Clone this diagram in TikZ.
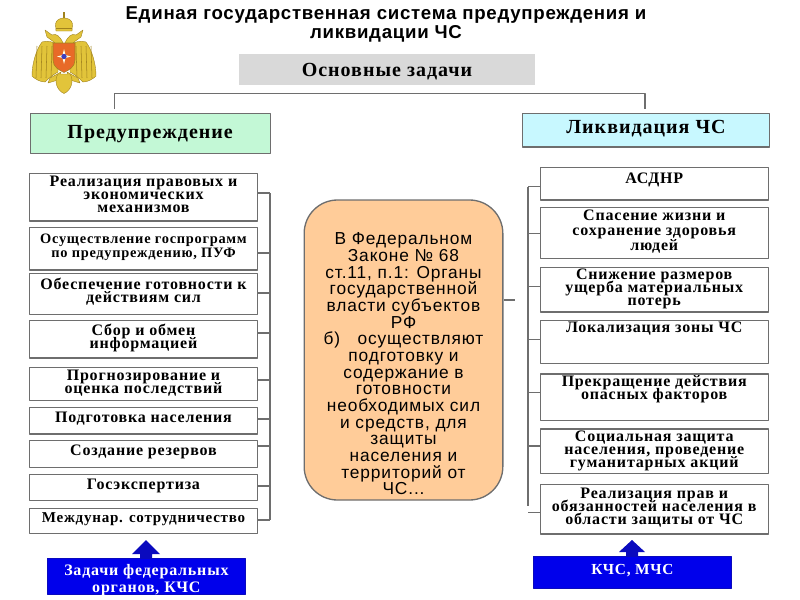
\documentclass[tikz,border=0pt]{standalone}
\usepackage{fontspec}
\setmainfont{Liberation Serif}
\newfontfamily\titlefont[LetterSpace=3.8]{Liberation Sans}
\newfontfamily\lawfont[LetterSpace=5]{Liberation Sans}
\newfontfamily\boxfont[LetterSpace=5]{Liberation Serif}
\usetikzlibrary{calc}
\setlength{\lineskiplimit}{-10pt}
\definecolor{edgegray}{RGB}{110,110,110}
\definecolor{headgray}{RGB}{217,217,217}
\definecolor{mintfill}{RGB}{195,248,214}
\definecolor{skyfill}{RGB}{200,248,255}
\definecolor{peachfill}{RGB}{255,204,153}
\definecolor{deepblue}{RGB}{0,0,235}
\definecolor{navyblue}{RGB}{10,10,190}
\definecolor{eaglegold}{RGB}{226,196,58}
\definecolor{eagledark}{RGB}{160,130,30}
\definecolor{shieldred}{RGB}{232,106,40}
\tikzset{
  taskbox/.style={draw=edgegray,line width=1pt,fill=white,anchor=north,minimum width=171pt,
    inner xsep=0pt,inner ysep=1pt,align=center,font=\boxfont\fontsize{12}{9.8}\bfseries},
  headbox/.style={draw=edgegray,line width=1pt,font=\boxfont\fontsize{15}{15}\bfseries,anchor=north west},
  bluebox/.style={draw=navyblue,fill=deepblue,text=white,line width=.6pt,anchor=north west,
    align=center,inner sep=0pt,font=\boxfont\fontsize{12}{12.5}\bfseries},
  wirepath/.style={draw=edgegray,line width=1pt},
  goldpart/.style={fill=eaglegold,draw=eagledark,line width=.3pt},
  feather/.style={draw=eagledark,line width=.4pt}
}
\begin{document}
\begin{tikzpicture}[x=.75pt,y=-.75pt,line join=round]
  \useasboundingbox (0,0) rectangle (800,600);
  % emblem
  \foreach \sgn in {-1,1}{
    \begin{scope}[shift={(64,0)},xscale=\sgn]
      \fill[goldpart] (6,45) .. controls (10,42) and (17,40) .. (22,42) .. controls (28,50) and (32,64) .. (32,76)
        .. controls (29,79) and (24,82) .. (19,82) .. controls (15,78) and (10,74) .. (6,72) -- cycle;
      \foreach \dx in {12,17,22,27}
        {\draw[feather] (\dx,46) -- (\dx+1,78);}
      \fill[goldpart] (1,43) .. controls (4,36) and (8,33) .. (12,35) -- (19,30) -- (17,37) .. controls (13,40) and (9,42) .. (7,46) -- cycle;
      \fill[goldpart] (3,72) -- (14,78) -- (16,83) -- (6,80) -- cycle;
    \end{scope}
  }
  \fill[goldpart] (58,74) -- (70,74) .. controls (74,80) and (72,90) .. (64,93.5)
    .. controls (56,90) and (54,80) .. (58,74) -- cycle;
  \fill[goldpart] (56,31) -- (55.5,24) .. controls (56,20) and (60,18) .. (64,18)
    .. controls (68,18) and (72,20) .. (72.5,24) -- (72,31) -- cycle;
  \draw[feather] (56,28) -- (72,28);
  \fill[eagledark] (62.8,12) rectangle (65.2,18);
  \fill[shieldred,draw=eagledark,line width=.4pt] (53,43) -- (75,43) -- (75,60)
    .. controls (75,67) and (69,70) .. (64,72.5) .. controls (59,70) and (53,67) .. (53,60) -- cycle;
  \fill[white!90!yellow] (64,49) -- (65.5,55) -- (71,56.5) -- (65.5,58) -- (64,64) -- (62.5,58) -- (57,56.5) -- (62.5,55) -- cycle;
  \fill[blue!50!gray] (64,56.5) circle (2pt);

  % title
  \node[font=\titlefont\fontsize{14}{14.3}\selectfont\bfseries,align=center] (title) at (386,24.5)
    {Единая государственная система предупреждения и\\ликвидации ЧС};
  \node[fill=headgray,minimum width=222pt,minimum height=23.5pt,inner sep=0pt,text depth=0pt,
    font=\boxfont\fontsize{15}{15}\bfseries] (tasks) at (387,69.5) {Основные задачи};

  % top bracket
  \coordinate (predtop) at (114.5,109);
  \coordinate (likvtop) at (645,109);
  \coordinate (barlevel) at (0,93.5);
  \draw[wirepath] (predtop) -- (predtop |- barlevel) -- (likvtop |- barlevel) -- (likvtop);

  \node[headbox,fill=mintfill,minimum width=180pt,minimum height=30pt] (pred) at (29.5,113) {Предупреждение};
  \node[headbox,fill=skyfill,minimum width=185pt,minimum height=25pt,text depth=5pt] (likv) at (522,113) {Ликвидация ЧС};

  % left column
  \node[taskbox,text depth=5pt,minimum height=35.5pt] (prev1) at (143.5,173) {Реализация правовых и\\экономических\\механизмов};
  \node[taskbox,minimum height=32pt,text depth=4pt,font=\boxfont\fontsize{10.8}{10.5}\bfseries] (prev2) at (143.5,226.5) {Осуществление госпрограмм\\по предупреждению, ПУФ};
  \node[taskbox,minimum height=30.5pt,text depth=6pt] (prev3) at (143.5,273) {Обеспечение готовности к\\действиям сил};
  \node[taskbox,minimum height=28pt,text depth=5pt] (prev4) at (143.5,320) {Сбор и обмен\\информацией};
  \node[taskbox,minimum height=25pt,text depth=3pt] (prev5) at (143.5,366.5) {Прогнозирование и\\оценка последствий};
  \node[taskbox,minimum height=20pt,text depth=5pt] (prev6) at (143.5,406.5) {Подготовка населения};
  \node[taskbox,minimum height=20pt,text depth=5pt] (prev7) at (143.5,440) {Создание резервов};
  \node[taskbox,minimum height=19.5pt,text depth=5pt] (prev8) at (143.5,474) {Госэкспертиза};
  \node[taskbox,minimum height=19pt,text depth=5pt,font=\boxfont\fontsize{11.3}{9.8}\bfseries] (prev9) at (143.5,507.5) {Междунар. сотрудничество};

  \coordinate (prevbus) at (270,193);
  \coordinate (prevend) at (270,520);
  \draw[wirepath] (prevbus) -- (prevend);
  \foreach \nm/\lev in {prev1/193,prev2/253,prev3/293,prev4/333,prev5/380,prev6/419,prev7/446,prev8/486,prev9/520}
    {\draw[wirepath] (\nm.east |- 0,\lev) -- (prevbus |- 0,\lev);}

  % centre
  \node[draw=edgegray,line width=1pt,fill=peachfill,rounded corners=25pt,minimum width=149pt,minimum height=225pt,
    inner sep=0pt,align=center,font=\lawfont\fontsize{13}{12.5}\selectfont] (law) at (403.5,350)
    {\rule{0pt}{30pt}В Федеральном\\Законе № 68\\ст.11, п.1: Органы\\государственной\\власти субъектов\\РФ\\б)\quad осуществляют\\подготовку и\\содержание в\\готовности\\необходимых сил\\и средств, для\\защиты\\населения и\\территорий от\\ЧС...};
  \coordinate (lawstub) at (515,300);
  \draw[wirepath] (law.east |- lawstub) -- (lawstub);

  % right column
  \node[taskbox,minimum height=24.5pt,text depth=9pt] (act1) at (654.25,166.7) {АСДНР};
  \node[taskbox,minimum height=38.5pt,text depth=4pt,font=\boxfont\fontsize{12}{11.2}\bfseries] (act2) at (654.25,206.7) {Спасение жизни и\\сохранение здоровья\\людей};
  \node[taskbox,minimum height=33.5pt,text depth=4pt] (act3) at (654.25,266.7) {Снижение размеров\\ущерба материальных\\потерь};
  \node[taskbox,minimum height=32pt,text depth=22pt] (act4) at (654.25,320) {Локализация зоны ЧС};
  \node[taskbox,minimum height=34.5pt,text depth=15pt] (act5) at (654.25,373.3) {Прекращение действия\\опасных факторов};
  \node[taskbox,minimum height=33.5pt,text depth=3pt] (act6) at (654.25,428.3) {Социальная защита\\населения, проведение\\гуманитарных акций};
  \node[taskbox,minimum height=37pt,text depth=5pt] (act7) at (654.25,484) {Реализация прав и\\обязанностей населения в\\области защиты от ЧС};

  \coordinate (actbus) at (528,186.7);
  \coordinate (actend) at (528,506);
  \draw[wirepath] (actbus) -- (actend);
  \foreach \nm/\lev in {act1/186.7,act2/233.3,act3/286.7,act4/339.3,act5/392.7,act6/446,act7/512.7}
    {\draw[wirepath] (\nm.west |- 0,\lev) -- (actbus |- 0,\lev);}

  % arrows and blue boxes
  \coordinate (fedtip) at (146,540);
  \coordinate (mchstip) at (632,540);
  \fill[navyblue] (fedtip) -- ++(14,14) -- ++(-8,0) -- ++(0,6) -- ++(-12,0) -- ++(0,-6) -- ++(-8,0) -- cycle;
  \fill[navyblue] (mchstip) -- ++(13,12) -- ++(-7,0) -- ++(0,6) -- ++(-12,0) -- ++(0,-6) -- ++(-7,0) -- cycle;
  \node[bluebox,minimum width=148.5pt,minimum height=27pt,text depth=0pt] (fed) at (47,558) {\rule{0pt}{11pt}Задачи федеральных\\органов, КЧС};
  \node[bluebox,minimum width=148.5pt,minimum height=23.7pt,text depth=3.5pt,font=\boxfont\fontsize{11.5}{12}\bfseries] (mchs) at (533,556) {КЧС, МЧС};
\end{tikzpicture}
\end{document}
